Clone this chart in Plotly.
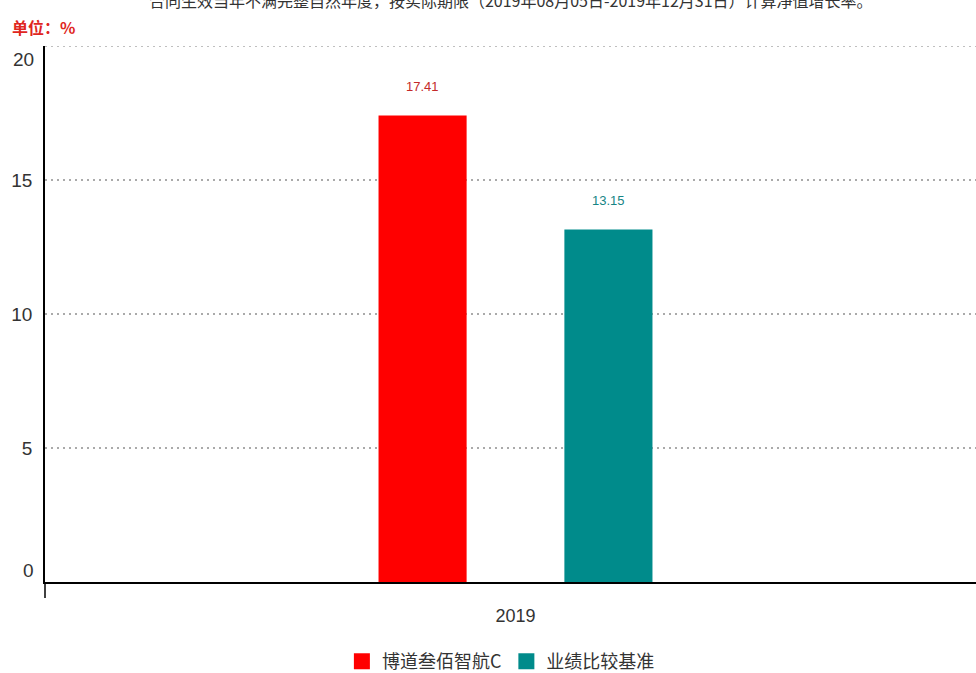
import plotly.graph_objects as go

categories = ["2019"]
series_names = ["博道叁佰智航C", "业绩比较基准"]
series_values = [[17.41], [13.15]]
series_colors = ["#ff0000", "#008b8b"]
label_colors = ["#c42a2a", "#168585"]
y_ticks = [0, 5, 10, 15, 20]
title_text = "合同生效当年不满完整自然年度，按实际期限（2019年08月05日-2019年12月31日）计算净值增长率。"
unit_text = "单位：%"

FONT = "Liberation Sans, Arial, Noto Sans CJK SC, sans-serif"
CJK = "Noto Sans CJK SC, sans-serif"
Y_RANGE = [min(y_ticks), max(y_ticks)]
tickfont = dict(size=19, color="#333333", family=FONT)

fig = go.Figure()
for name, vals, col in zip(series_names, series_values, series_colors):
    fig.add_trace(go.Bar(x=categories, y=vals, name=name, showlegend=False,
                         marker=dict(color=col, line=dict(width=0))))
# legend entries with larger swatches
for name, col in zip(series_names, series_colors):
    fig.add_trace(go.Scatter(x=[None], y=[None], mode="markers", name=name,
                             marker=dict(symbol="square", size=18, color=col)))

annotations = []
for i, (vals, lc) in enumerate(zip(series_values, label_colors)):
    for ci, v in enumerate(vals):
        annotations.append(dict(
            x=ci, y=v, xref="x", yref="y", text=f"{v:.2f}", showarrow=False,
            yshift=29, xshift=(-92.75 if i == 0 else 92.75),
            font=dict(size=13, color=lc, family=FONT)))

# end tick labels sit inside the axis span (as in the original)
for v, shift in ((y_ticks[-1], -13), (y_ticks[0], 12)):
    annotations.append(dict(x=0, y=v, xref="paper", yref="y", text=str(v), showarrow=False,
                            xanchor="right", yanchor="middle", xshift=-9, yshift=shift,
                            font=tickfont))

annotations.append(dict(x=-0.037, y=1.035, xref="paper", yref="paper", text="<b>" + unit_text + "</b>",
                        showarrow=False, xanchor="left", yanchor="middle",
                        font=dict(size=16, color="#e0261e", family=CJK)))

shapes = [
    dict(type="line", xref="paper", yref="paper", x0=0, x1=0, y0=0, y1=-0.03,
         line=dict(color="#000000", width=1.5)),
    dict(type="line", xref="paper", yref="y", x0=0, x1=1, y0=y_ticks[-1], y1=y_ticks[-1],
         line=dict(color="#aaaaaa", width=1.5, dash="2px,4px")),
]

fig.update_layout(
    width=986, height=673,
    margin=dict(l=45, r=0, t=46, b=91, autoexpand=False),
    paper_bgcolor="white", plot_bgcolor="white",
    barmode="group", bargap=0.605, bargroupgap=0.526,
    title=dict(text=title_text, x=0.518, xanchor="center", y=0.998, yref="container", yanchor="middle",
               font=dict(size=16, color="#333333", family=CJK)),
    xaxis=dict(type="category", range=[-0.5, len(categories) - 0.5], showgrid=False, showline=True,
               linecolor="#000000", linewidth=2,
               tickfont=dict(size=18, color="#333333", family=FONT), ticks="", ticklabelstandoff=16),
    yaxis=dict(range=Y_RANGE, tickvals=y_ticks,
               ticktext=[("" if t in (y_ticks[0], y_ticks[-1]) else str(t)) for t in y_ticks],
               showgrid=True, gridcolor="#aaaaaa",
               griddash="2px,4px", gridwidth=1.5, showline=True, linecolor="#000000", linewidth=1.5,
               zeroline=False, tickfont=tickfont, ticks="", ticklabelstandoff=7),
    legend=dict(orientation="h", x=0.508, xanchor="center", xref="container",
                y=0.017, yanchor="middle", yref="container",
                font=dict(size=18, color="#333333", family=CJK),
                itemsizing="trace", traceorder="normal"),
    showlegend=True,
    annotations=annotations,
    shapes=shapes,
    font=dict(family=FONT),
)

fig.write_html("out.html", config={"displayModeBar": False},
               post_script="document.body.style.margin='0';document.body.style.overflow='hidden';")
